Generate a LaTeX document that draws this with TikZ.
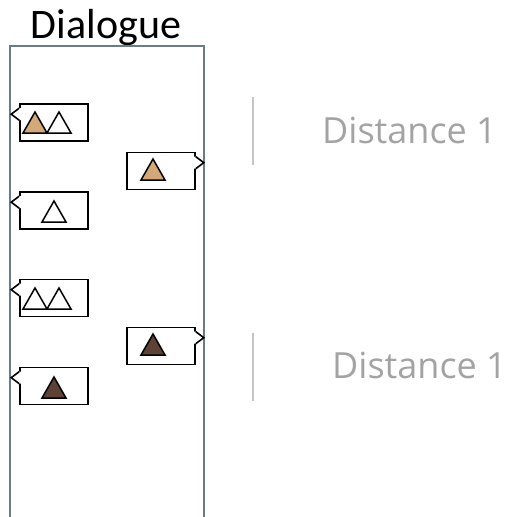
\documentclass[tikz,border=0pt]{standalone}
\usepackage{fontspec}
\setmainfont{Carlito}
\newfontfamily\distfont{Open Sans}
\definecolor{tan}{HTML}{D4A97A}
\definecolor{darkbrown}{HTML}{5E4236}
\definecolor{frame}{HTML}{6B7B8A}
\definecolor{distgray}{HTML}{A3A3A3}
\definecolor{rulegray}{HTML}{C4C4C4}
\tikzset{
  bubble/.style={draw, line width=1.6pt, minimum width=68pt, minimum height=37pt, inner sep=0pt},
  tailstroke/.style={line width=1.6pt},
  tri/.style={draw, line width=1.5pt, line join=miter},
}
% triangle: #1 = left end of base, #2 = fill colour
\newcommand{\tri}[2]{\draw[tri, fill=#2] #1 -- ++(24,0) -- ++(-12,-21) -- cycle;}
% tail on the left or right side of a bubble, a few points below its top
\newcommand{\tailL}[1]{%
  \fill[white] ([yshift=-5pt]#1.north west) -- ++(-8,6) -- ++(8,6) -- ++(2,0) -- ++(0,-12) -- cycle;
  \draw[tailstroke] ([yshift=-5pt]#1.north west) -- ++(-8,6) -- ++(8,6);}
\newcommand{\tailR}[1]{%
  \fill[white] ([yshift=-5pt]#1.north east) -- ++(8,6) -- ++(-8,6) -- ++(-2,0) -- ++(0,-12) -- cycle;
  \draw[tailstroke] ([yshift=-5pt]#1.north east) -- ++(8,6) -- ++(-8,6);}
\begin{document}
\begin{tikzpicture}[x=1pt, y=-1pt]
  \useasboundingbox (0,0) rectangle (509,517);

  % dialogue column
  \node[anchor=base, inner sep=0pt, font=\fontsize{42}{44}\selectfont] (title) at (106,38) {Dialogue};
  \draw[frame, line width=1.4pt] (10,517) -- (10,46) -- (204,46) -- (204,517);

  % bubbles, left speaker
  \node[bubble] (a1) at (54,122.5) {};
  \tailL{a1}
  \tri{(23,133)}{tan} \tri{(47,133)}{white}

  \node[bubble] (a2) at (54,210.5) {};
  \tailL{a2}
  \tri{(42,222)}{white}

  \node[bubble] (a3) at (54,298) {};
  \tailL{a3}
  \tri{(23,309)}{white} \tri{(47,309)}{white}

  \node[bubble] (a4) at (54,386) {};
  \tailL{a4}
  \tri{(42,398)}{darkbrown}

  % bubbles, right speaker
  \node[bubble] (b1) at (161,171) {};
  \tailR{b1}
  \tri{(141,180)}{tan}

  \node[bubble] (b2) at (161,346) {};
  \tailR{b2}
  \tri{(141,355)}{darkbrown}

  % distances
  \draw[rulegray, line width=1.3pt] (253,97) -- (253,165);
  \node[anchor=base west, inner sep=0pt, text=distgray, font=\distfont\fontsize{36}{40}\selectfont] (d1) at (322,143) {Distance 1};
  \draw[rulegray, line width=1.3pt] (253,333) -- (253,401);
  \node[anchor=base west, inner sep=0pt, text=distgray, font=\distfont\fontsize{36}{40}\selectfont] (d2) at (332,378) {Distance 1};
\end{tikzpicture}
\end{document}
